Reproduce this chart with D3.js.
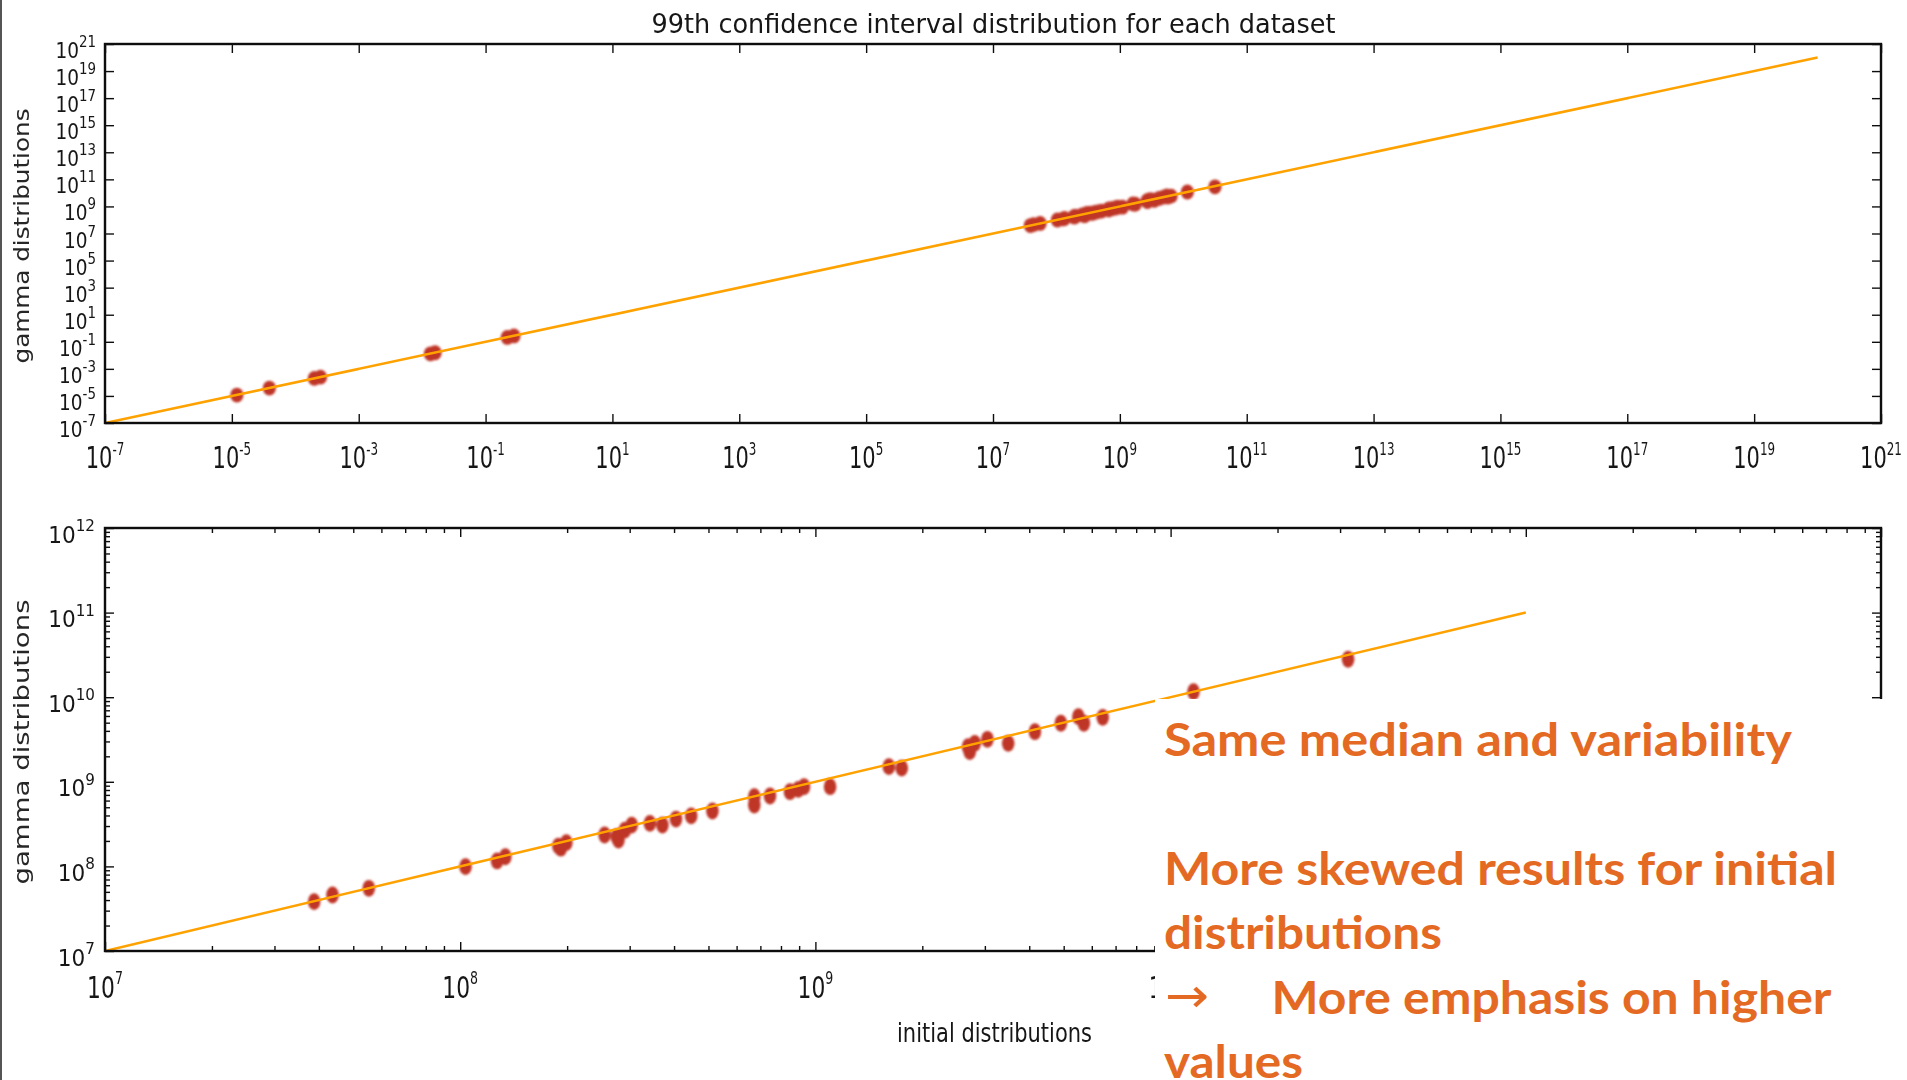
<!DOCTYPE html>
<html>
<head>
<meta charset="utf-8">
<script src="https://cdn.jsdelivr.net/npm/d3@7"></script>
<style>
  html, body { margin: 0; padding: 0; background: #fff; }
  svg { display: block; }
</style>
</head>
<body>
<svg id="chart" width="1907" height="1080"></svg>
<script>
// 99th-percentile value of each dataset: initial distribution vs. fitted gamma distribution
const initialValues = [
  1.2e-5, 3.9e-5, 2.0e-4, 2.5e-4, 1.35e-2, 1.6e-2, 0.22, 0.28,
  3.88e7, 4.37e7, 5.53e7, 1.035e8, 1.27e8, 1.34e8, 1.89e8, 1.99e8, 1.92e8,
  2.55e8, 2.76e8, 2.79e8, 2.91e8, 3.04e8, 3.42e8, 3.71e8, 4.05e8, 4.47e8,
  5.13e8, 6.73e8, 6.73e8, 7.45e8, 8.48e8, 8.95e8, 9.29e8, 1.10e9,
  1.61e9, 1.75e9, 2.69e9, 2.81e9, 2.72e9, 3.05e9, 3.49e9, 4.15e9,
  4.91e9, 5.50e9, 5.70e9, 6.44e9, 1.16e10, 3.16e10
];
const gammaValues = [
  1.15e-5, 3.8e-5, 1.95e-4, 2.45e-4, 1.3e-2, 1.55e-2, 0.21, 0.27,
  3.83e7, 4.59e7, 5.51e7, 9.93e7, 1.16e8, 1.30e8, 1.74e8, 1.91e8, 1.64e8,
  2.35e8, 2.24e8, 2.05e8, 2.69e8, 3.08e8, 3.23e8, 3.08e8, 3.63e8, 3.95e8,
  4.52e8, 6.67e8, 5.32e8, 6.79e8, 7.64e8, 8.15e8, 8.75e8, 8.75e8,
  1.51e9, 1.45e9, 2.60e9, 2.85e9, 2.27e9, 3.18e9, 2.85e9, 3.91e9,
  4.92e9, 5.89e9, 4.92e9, 5.78e9, 1.16e10, 2.81e10
];

// Tick labels (powers of ten) for each panel
const topTickExponents = [-7, -5, -3, -1, 1, 3, 5, 7, 9, 11, 13, 15, 17, 19, 21];
const bottomTickExponents = [7, 8, 9, 10, 11, 12];

// Identity reference line (gamma = initial) drawn across each panel
const topReference = [1e-7, 1e20];
const bottomReference = [1e7, 1e11];

const titleText = "99th confidence interval distribution for each dataset";
const xLabelText = "initial distributions";
const yLabelText = "gamma distributions";
const noteLines = [
  "Same median and variability",
  "More skewed results for initial",
  "distributions",
  "More emphasis on higher",
  "values"
];

// white annotation box laid over the lower-right corner of the figure
const noteBox = { x: 1155, y: 699, w: 752, h: 381 };

const svg = d3.select("#chart");
const defs = svg.append("defs");
defs.append("filter").attr("id", "soft")
  .attr("x", "-5%").attr("y", "-5%").attr("width", "110%").attr("height", "110%")
  .append("feGaussianBlur").attr("stdDeviation", 0.8);
defs.append("filter").attr("id", "haze")
  .attr("x", "-2%").attr("y", "-2%").attr("width", "104%").attr("height", "104%")
  .append("feGaussianBlur").attr("stdDeviation", 0.45);
// keeps tick labels out of the annotation box
defs.append("clipPath").attr("id", "clip-outside-note").append("path")
  .attr("d", `M0,0H1907V${noteBox.y}H${noteBox.x}V1080H0Z`);

// thin page border on the left edge
svg.append("rect").attr("x", 0).attr("y", 0).attr("width", 2).attr("height", 1080).attr("fill", "#555");

const chart = svg.append("g").attr("filter", "url(#haze)");

const panels = [
  {
    id: "top", left: 105, right: 1881, top: 44, bottom: 423,
    domain: [1e-7, 1e21], ticks: topTickExponents, minor: false, reference: topReference,
    rx: 6.6, ry: 7.4,
    xLab: { base: 30, sup: 17, raise: 13, sx: 0.7, offset: 45 },
    yLab: { base: 22, sup: 16, raise: 11, sx: 0.84, offset: 14, end: 96 },
    yTitle: { cx: 29, cy: 236, len: 255 }
  },
  {
    id: "bottom", left: 105, right: 1881, top: 528, bottom: 951,
    domain: [1e7, 1e12], ticks: bottomTickExponents, minor: true, reference: bottomReference,
    rx: 6.3, ry: 8.4,
    xLab: { base: 29.5, sup: 17, raise: 14.5, sx: 0.74, offset: 47 },
    yLab: { base: 23.5, sup: 16.5, raise: 11.5, sx: 0.92, offset: 14.5, end: 95 },
    yTitle: { cx: 29, cy: 742, len: 285 }
  }
];

function sciLabel(parent, tx, ty, exp, o, anchor) {
  const t = parent.append("text")
    .attr("transform", `translate(${tx},${ty}) scale(${o.sx},1)`)
    .attr("text-anchor", anchor)
    .attr("font-family", "DejaVu Sans")
    .attr("fill", "#161616");
  t.append("tspan").attr("font-size", o.base).text("10");
  t.append("tspan").attr("font-size", o.sup).attr("dy", -o.raise).text(String(exp));
}

function styleAxis(sel) {
  sel.select(".domain").remove();
  sel.selectAll(".tick text").remove();
  sel.selectAll(".tick line").attr("stroke", "#111").attr("stroke-width", 1.4);
}

function drawPanel(p) {
  const x = d3.scaleLog().domain(p.domain).range([p.left, p.right]);
  const y = d3.scaleLog().domain(p.domain).range([p.bottom, p.top]);
  const g = chart.append("g").attr("class", "panel-" + p.id);

  const clipId = "clip-" + p.id;
  defs.append("clipPath").attr("id", clipId).append("rect")
    .attr("x", p.left).attr("y", p.top)
    .attr("width", p.right - p.left).attr("height", p.bottom - p.top);

  const plot = g.append("g").attr("clip-path", `url(#${clipId})`);
  const pts = initialValues.map((v, i) => ({ x: v, y: gammaValues[i] }))
    .filter(d => d.x >= p.domain[0] && d.x <= p.domain[1]);

  plot.append("g").attr("filter", "url(#soft)")
    .selectAll("ellipse").data(pts).join("ellipse")
    .attr("cx", d => x(d.x)).attr("cy", d => y(d.y))
    .attr("rx", p.rx).attr("ry", p.ry)
    .attr("fill", "#bf3526");

  plot.append("path")
    .attr("d", d3.line()(p.reference.map(v => [x(v), y(v)])))
    .attr("fill", "none").attr("stroke", "#ffa200").attr("stroke-width", 2.6);

  // major and minor ticks, pointing inward on all four sides
  const major = p.ticks.map(e => Math.pow(10, e));
  const minor = [];
  if (p.minor) {
    for (let e = p.ticks[0]; e < p.ticks[p.ticks.length - 1]; e++) {
      for (let m = 2; m <= 9; m++) minor.push(m * Math.pow(10, e));
    }
  }
  const sets = [[major, 9], [minor, 5]];
  sets.forEach(([vals, len]) => {
    if (!vals.length) return;
    g.append("g").attr("transform", `translate(0,${p.bottom})`)
      .call(d3.axisBottom(x).tickValues(vals).tickSize(-len).tickFormat(() => "")).call(styleAxis);
    g.append("g").attr("transform", `translate(0,${p.top})`)
      .call(d3.axisTop(x).tickValues(vals).tickSize(-len).tickFormat(() => "")).call(styleAxis);
    g.append("g").attr("transform", `translate(${p.left},0)`)
      .call(d3.axisLeft(y).tickValues(vals).tickSize(-len).tickFormat(() => "")).call(styleAxis);
    g.append("g").attr("transform", `translate(${p.right},0)`)
      .call(d3.axisRight(y).tickValues(vals).tickSize(-len).tickFormat(() => "")).call(styleAxis);
  });

  g.append("rect")
    .attr("x", p.left).attr("y", p.top)
    .attr("width", p.right - p.left).attr("height", p.bottom - p.top)
    .attr("fill", "none").attr("stroke", "#111").attr("stroke-width", 2.4);

  // tick labels as 10^n; x labels lying wholly under the annotation box are left out
  const labels = g.append("g").attr("clip-path", "url(#clip-outside-note)");
  const labelY = p.bottom + p.xLab.offset;
  p.ticks.forEach(e => {
    const tx = x(Math.pow(10, e));
    const hidden = labelY > noteBox.y && tx - 18 > noteBox.x;
    if (!hidden) sciLabel(labels, tx, labelY, e, p.xLab, "middle");
    sciLabel(labels, p.yLab.end, y(Math.pow(10, e)) + p.yLab.offset, e, p.yLab, "end");
  });

  // y-axis title
  g.append("text")
    .attr("transform", `translate(${p.yTitle.cx},${p.yTitle.cy}) rotate(-90)`)
    .attr("text-anchor", "middle")
    .attr("font-family", "DejaVu Sans").attr("font-size", 21)
    .attr("textLength", p.yTitle.len).attr("lengthAdjust", "spacingAndGlyphs")
    .attr("fill", "#262626")
    .text(yLabelText);
}

panels.forEach(drawPanel);

// chart title and shared x-axis title
chart.append("text")
  .attr("x", 993.5).attr("y", 33.3).attr("text-anchor", "middle")
  .attr("font-family", "DejaVu Sans").attr("font-size", 27)
  .attr("textLength", 684).attr("lengthAdjust", "spacingAndGlyphs")
  .attr("fill", "#161616").text(titleText);

chart.append("text")
  .attr("x", 994.5).attr("y", 1042).attr("text-anchor", "middle")
  .attr("font-family", "DejaVu Sans").attr("font-size", 27)
  .attr("textLength", 195).attr("lengthAdjust", "spacingAndGlyphs")
  .attr("fill", "#161616").text(xLabelText);

// annotation box over the lower-right corner
svg.append("rect").attr("x", noteBox.x).attr("y", noteBox.y)
  .attr("width", noteBox.w).attr("height", noteBox.h).attr("fill", "#fff");

const noteColor = "#e46a24";
const note = svg.append("g").attr("font-family", "Lato").attr("font-weight", 700)
  .attr("font-size", 45).attr("fill", noteColor);
const noteLayout = [
  { x: 1164, y: 756.4, len: 628 },
  { x: 1164, y: 884.8, len: 673 },
  { x: 1164, y: 948.8, len: 278 },
  { x: 1271.4, y: 1013.5, len: 560 },
  { x: 1164, y: 1078, len: 139 }
];
noteLines.forEach((line, i) => {
  note.append("text")
    .attr("x", noteLayout[i].x).attr("y", noteLayout[i].y)
    .attr("textLength", noteLayout[i].len).attr("lengthAdjust", "spacingAndGlyphs")
    .text(line);
});
note.append("text")
  .attr("x", 1165).attr("y", 1012)
  .attr("font-family", "DejaVu Sans").attr("font-weight", 400).attr("font-size", 48)
  .attr("textLength", 44).attr("lengthAdjust", "spacingAndGlyphs")
  .text("\u2192");
</script>
</body>
</html>
